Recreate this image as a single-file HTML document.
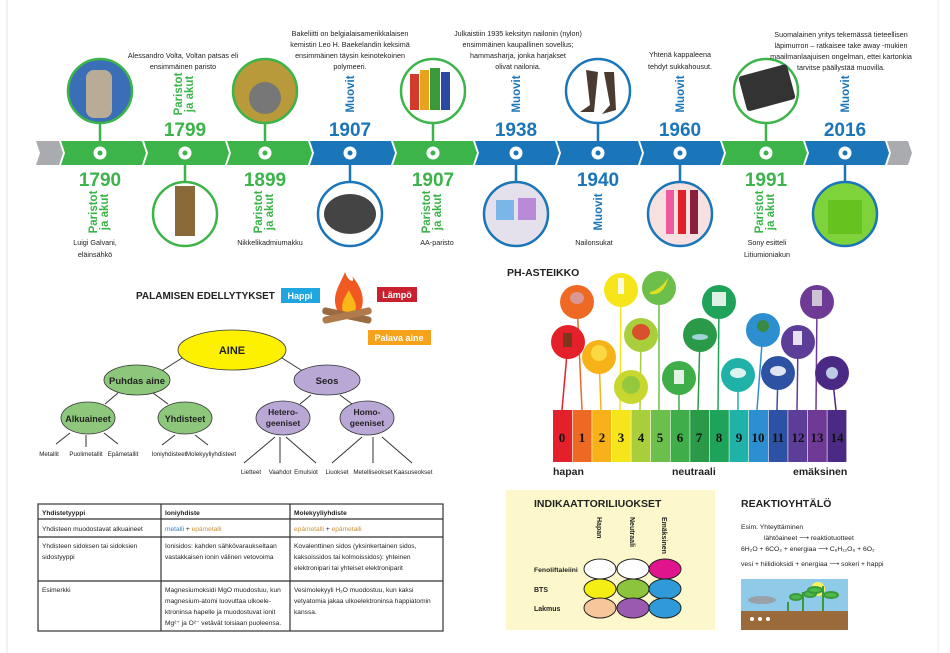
<!DOCTYPE html>
<html><head><meta charset="utf-8"><style>
html,body{margin:0;padding:0;background:#fff;}
svg{display:block;font-family:"Liberation Sans",sans-serif;}
</style></head><body>
<svg width="950" height="653" viewBox="0 0 950 653" xmlns="http://www.w3.org/2000/svg">
<rect width="950" height="653" fill="#fff"/>
<line x1="7" y1="0" x2="7" y2="653" stroke="#e4e4e4"/>
<line x1="938" y1="0" x2="938" y2="653" stroke="#eee"/>

<!-- timeline band -->
<polygon points="36,141 59,141 63,153 59,165 36,165 40,153" fill="#a9abae"/>
<g>
<polygon points="61,141 142,141 146,153 142,165 61,165 65,153" fill="#3cb44a"/>
<polygon points="144,141 225,141 229,153 225,165 144,165 148,153" fill="#3cb44a"/>
<polygon points="227,141 308,141 312,153 308,165 227,165 231,153" fill="#3cb44a"/>
<polygon points="310,141 391,141 395,153 391,165 310,165 314,153" fill="#1a75b9"/>
<polygon points="393,141 473,141 477,153 473,165 393,165 397,153" fill="#3cb44a"/>
<polygon points="475,141 555,141 559,153 555,165 475,165 479,153" fill="#1a75b9"/>
<polygon points="557,141 638,141 642,153 638,165 557,165 561,153" fill="#1a75b9"/>
<polygon points="640,141 720,141 724,153 720,165 640,165 644,153" fill="#1a75b9"/>
<polygon points="722,141 803,141 807,153 803,165 722,165 726,153" fill="#3cb44a"/>
<polygon points="805,141 885,141 889,153 885,165 805,165 809,153" fill="#1a75b9"/>
</g>
<polygon points="887,141 908,141 912,153 908,165 887,165 891,153" fill="#a9abae"/>

<!-- top circles -->
<g stroke-width="2.5">
<line x1="100" y1="122" x2="100" y2="153" stroke="#3cb44a"/>
<circle cx="100" cy="91" r="32" fill="#3a6fb8" stroke="#3cb44a"/>
<rect x="86" y="70" width="26" height="48" rx="8" fill="#b9ab95" stroke="none"/>
<line x1="265" y1="122" x2="265" y2="153" stroke="#3cb44a"/>
<circle cx="265" cy="91" r="32" fill="#b89a3a" stroke="#3cb44a"/>
<circle cx="265" cy="98" r="16" fill="#777" stroke="none"/>
<line x1="433" y1="122" x2="433" y2="153" stroke="#3cb44a"/>
<circle cx="433" cy="91" r="32" fill="#fff" stroke="#3cb44a"/>
<rect x="410" y="74" width="9" height="36" fill="#d23a2a" stroke="none"/>
<rect x="420" y="70" width="9" height="40" fill="#e8a21c" stroke="none"/>
<rect x="430" y="68" width="10" height="42" fill="#3a9a3a" stroke="none"/>
<rect x="441" y="72" width="9" height="38" fill="#2a4aa0" stroke="none"/>
<line x1="598" y1="122" x2="598" y2="153" stroke="#1a75b9"/>
<circle cx="598" cy="91" r="32" fill="#fff" stroke="#1a75b9"/>
<path d="M586 70 L590 105 L580 112 L594 112 L598 72 Z M604 72 L610 105 L602 114 L616 110 L614 72 Z" fill="#4a3a30" stroke="none"/>
<line x1="766" y1="122" x2="766" y2="153" stroke="#3cb44a"/>
<circle cx="766" cy="91" r="32" fill="#fff" stroke="#3cb44a"/>
<rect x="742" y="70" width="50" height="36" rx="3" fill="#333" stroke="none" transform="rotate(-15 766 88)"/>
</g>
<!-- bottom circles -->
<g stroke-width="2.5">
<line x1="185" y1="153" x2="185" y2="182" stroke="#3cb44a"/>
<circle cx="185" cy="214" r="32" fill="#fff" stroke="#3cb44a"/>
<rect x="175" y="186" width="20" height="50" fill="#8a6a38" stroke="none"/>
<line x1="350" y1="153" x2="350" y2="182" stroke="#1a75b9"/>
<circle cx="350" cy="214" r="32" fill="#fff" stroke="#1a75b9"/>
<ellipse cx="350" cy="214" rx="26" ry="20" fill="#444" stroke="none"/>
<line x1="516" y1="153" x2="516" y2="182" stroke="#1a75b9"/>
<circle cx="516" cy="214" r="32" fill="#e4e0ec" stroke="#1a75b9"/>
<rect x="496" y="200" width="18" height="20" fill="#7ab6e8" stroke="none"/>
<rect x="518" y="198" width="18" height="22" fill="#b88ad8" stroke="none"/>
<line x1="680" y1="153" x2="680" y2="182" stroke="#1a75b9"/>
<circle cx="680" cy="214" r="32" fill="#f6e0e0" stroke="#1a75b9"/>
<rect x="666" y="190" width="8" height="44" fill="#ee5aa0" stroke="none"/>
<rect x="678" y="190" width="8" height="44" fill="#e2202a" stroke="none"/>
<rect x="690" y="190" width="8" height="44" fill="#8a2040" stroke="none"/>
<line x1="845" y1="153" x2="845" y2="182" stroke="#1a75b9"/>
<circle cx="845" cy="214" r="32" fill="#7ed23a" stroke="#1a75b9"/>
<rect x="828" y="200" width="34" height="34" fill="#66c21e" stroke="none"/>
</g>
<!-- nodes -->
<g fill="#fff">
<circle cx="100" cy="153" r="6.5"/><circle cx="185" cy="153" r="6.5"/><circle cx="265" cy="153" r="6.5"/><circle cx="350" cy="153" r="6.5"/><circle cx="433" cy="153" r="6.5"/><circle cx="516" cy="153" r="6.5"/><circle cx="598" cy="153" r="6.5"/><circle cx="680" cy="153" r="6.5"/><circle cx="766" cy="153" r="6.5"/><circle cx="845" cy="153" r="6.5"/>
</g>
<g fill="#3cb44a"><circle cx="100" cy="153" r="2.5"/><circle cx="185" cy="153" r="2.5"/><circle cx="265" cy="153" r="2.5"/><circle cx="433" cy="153" r="2.5"/><circle cx="766" cy="153" r="2.5"/></g>
<g fill="#1a75b9"><circle cx="350" cy="153" r="2.5"/><circle cx="516" cy="153" r="2.5"/><circle cx="598" cy="153" r="2.5"/><circle cx="680" cy="153" r="2.5"/><circle cx="845" cy="153" r="2.5"/></g>

<!-- years -->
<g text-anchor="middle" font-size="19" font-weight="bold">
<text x="185" y="136" fill="#3cb44a">1799</text>
<text x="350" y="136" fill="#1a75b9">1907</text>
<text x="516" y="136" fill="#1a75b9">1938</text>
<text x="680" y="136" fill="#1a75b9">1960</text>
<text x="845" y="136" fill="#1a75b9">2016</text>
<text x="100" y="186" fill="#3cb44a">1790</text>
<text x="265" y="186" fill="#3cb44a">1899</text>
<text x="433" y="186" fill="#3cb44a">1907</text>
<text x="598" y="186" fill="#1a75b9">1940</text>
<text x="766" y="186" fill="#3cb44a">1991</text>
</g>
<!-- vertical labels -->
<g font-size="11.5" font-weight="bold" text-anchor="middle">
<text transform="translate(185,94) rotate(-90)" fill="#3cb44a"><tspan x="0" y="-3">Paristot</tspan><tspan x="0" y="8">ja akut</tspan></text>
<text transform="translate(354,94) rotate(-90)" fill="#1a75b9">Muovit</text>
<text transform="translate(520,94) rotate(-90)" fill="#1a75b9">Muovit</text>
<text transform="translate(684,94) rotate(-90)" fill="#1a75b9">Muovit</text>
<text transform="translate(849,94) rotate(-90)" fill="#1a75b9">Muovit</text>
<text transform="translate(100,212) rotate(-90)" fill="#3cb44a"><tspan x="0" y="-3">Paristot</tspan><tspan x="0" y="8">ja akut</tspan></text>
<text transform="translate(265,212) rotate(-90)" fill="#3cb44a"><tspan x="0" y="-3">Paristot</tspan><tspan x="0" y="8">ja akut</tspan></text>
<text transform="translate(433,212) rotate(-90)" fill="#3cb44a"><tspan x="0" y="-3">Paristot</tspan><tspan x="0" y="8">ja akut</tspan></text>
<text transform="translate(602,212) rotate(-90)" fill="#1a75b9">Muovit</text>
<text transform="translate(766,212) rotate(-90)" fill="#3cb44a"><tspan x="0" y="-3">Paristot</tspan><tspan x="0" y="8">ja akut</tspan></text>
</g>
<!-- descriptions -->
<g font-size="7.2" fill="#222" text-anchor="middle">
<text x="183" y="58">Alessandro Volta, Voltan patsas eli</text><text x="183" y="69">ensimmäinen paristo</text>
<text x="350" y="36">Bakeliitti on belgialaisamerikkalaisen</text><text x="350" y="47">kemistin Leo H. Baekelandin keksimä</text><text x="350" y="58">ensimmäinen täysin keinotekoinen</text><text x="350" y="69">polymeeri.</text>
<text x="518" y="36">Julkaistiin 1935 keksityn nailonin (nylon)</text><text x="518" y="47">ensimmäinen kaupallinen sovellus;</text><text x="518" y="58">hammasharja, jonka harjakset</text><text x="518" y="69">olivat nailonia.</text>
<text x="680" y="57">Yhtenä kappaleena</text><text x="680" y="69">tehdyt sukkahousut.</text>
<text x="841" y="37">Suomalainen yritys tekemässä tieteellisen</text><text x="841" y="48">läpimurron – ratkaisee take away -mukien</text><text x="841" y="59">maailmanlaajuisen ongelman, ettei kartonkia</text><text x="841" y="70">tarvitse päällystää muovilla.</text>
<text x="95" y="245">Luigi Galvani,</text><text x="95" y="257">eläinsähkö</text>
<text x="270" y="245">Nikkelikadmiumakku</text>
<text x="437" y="245">AA-paristo</text>
<text x="594" y="245">Nailonsukat</text>
<text x="767" y="245">Sony esitteli</text><text x="767" y="257">Litiumioniakun</text>
</g>

<!-- Palamisen -->
<text x="136" y="299" font-size="10" font-weight="bold" fill="#222">PALAMISEN EDELLYTYKSET</text>
<rect x="281" y="288" width="39" height="15" fill="#1fa5e0"/><text x="300" y="299" font-size="9" font-weight="bold" fill="#fff" text-anchor="middle">Happi</text>
<rect x="377" y="287" width="40" height="15" fill="#c8202e"/><text x="397" y="298" font-size="9" font-weight="bold" fill="#fff" text-anchor="middle">Lämpö</text>
<path d="M338 312 C330 296 340 285 345 272 C348 282 356 284 352 276 C362 288 366 300 360 312 Z" fill="#f05a22"/>
<path d="M343 312 C340 302 346 296 349 290 C352 298 358 302 355 312 Z" fill="#fbb617"/>
<rect x="322" y="312" width="50" height="7" rx="3" fill="#9a6a42" transform="rotate(12 347 315)"/>
<rect x="322" y="312" width="50" height="7" rx="3" fill="#b07a4c" transform="rotate(-12 347 315)"/>
<rect x="368" y="330" width="63" height="15" fill="#f7a21b"/><text x="399" y="341" font-size="9" font-weight="bold" fill="#fff" text-anchor="middle">Palava aine</text>

<!-- tree lines -->
<g stroke="#333" stroke-width="1">
<line x1="182" y1="358" x2="160" y2="372"/><line x1="282" y1="358" x2="304" y2="372"/>
<line x1="118" y1="393" x2="105" y2="404"/><line x1="153" y1="393" x2="168" y2="404"/>
<line x1="311" y1="395" x2="300" y2="404"/><line x1="340" y1="395" x2="352" y2="404"/>
<line x1="70" y1="433" x2="56" y2="444"/><line x1="86" y1="435" x2="86" y2="447"/><line x1="104" y1="433" x2="118" y2="444"/>
<line x1="175" y1="435" x2="162" y2="445"/><line x1="195" y1="435" x2="208" y2="445"/>
<line x1="275" y1="437" x2="244" y2="463"/><line x1="280" y1="437" x2="280" y2="463"/><line x1="286" y1="437" x2="316" y2="463"/>
<line x1="362" y1="437" x2="332" y2="463"/><line x1="373" y1="437" x2="373" y2="463"/><line x1="382" y1="437" x2="412" y2="463"/>
</g>
<g stroke="#333" stroke-width="0.8">
<ellipse cx="232" cy="350" rx="54" ry="20" fill="#fdf100"/>
<ellipse cx="137" cy="380" rx="33" ry="15" fill="#8dc77b"/>
<ellipse cx="327" cy="380" rx="33" ry="15" fill="#b9a7d6"/>
<ellipse cx="88" cy="418" rx="27" ry="16" fill="#8dc77b"/>
<ellipse cx="185" cy="418" rx="27" ry="16" fill="#8dc77b"/>
<ellipse cx="283" cy="418" rx="27" ry="17" fill="#b9a7d6"/>
<ellipse cx="367" cy="418" rx="27" ry="17" fill="#b9a7d6"/>
</g>
<g font-weight="bold" fill="#222" text-anchor="middle">
<text x="232" y="354" font-size="11">AINE</text>
<text x="137" y="384" font-size="9.5">Puhdas aine</text>
<text x="327" y="384" font-size="9.5">Seos</text>
<text x="88" y="422" font-size="9">Alkuaineet</text>
<text x="185" y="422" font-size="9">Yhdisteet</text>
<text x="283" y="415" font-size="8.5">Hetero-</text><text x="283" y="426" font-size="8.5">geeniset</text>
<text x="367" y="415" font-size="8.5">Homo-</text><text x="367" y="426" font-size="8.5">geeniset</text>
</g>
<g font-size="6.2" fill="#222" text-anchor="middle">
<text x="49" y="456">Metallit</text><text x="86" y="456">Puolimetallit</text><text x="123" y="456">Epämetallit</text>
<text x="169" y="456">Ioniyhdisteet</text><text x="211" y="456">Molekyyliyhdisteet</text>
<text x="251" y="474">Lietteet</text><text x="280" y="474">Vaahdot</text><text x="306" y="474">Emulsiot</text>
<text x="337" y="474">Liuokset</text><text x="373" y="474">Metelliseokset</text><text x="413" y="474">Kaasuseokset</text>
</g>

<!-- table -->
<g stroke="#333" stroke-width="1.2" fill="none">
<rect x="38" y="504" width="405" height="127"/>
<line x1="161" y1="504" x2="161" y2="631"/><line x1="290" y1="504" x2="290" y2="631"/>
<line x1="38" y1="519" x2="443" y2="519"/><line x1="38" y1="537" x2="443" y2="537"/><line x1="38" y1="581" x2="443" y2="581"/>
</g>
<g font-size="6.6" fill="#222">
<text x="42" y="515" font-weight="bold">Yhdistetyyppi</text><text x="165" y="515" font-weight="bold">Ioniyhdiste</text><text x="294" y="515" font-weight="bold">Molekyyliyhdiste</text>
<text x="42" y="531">Yhdisteen muodostavat alkuaineet</text>
<text x="165" y="531"><tspan fill="#3b7cc4">metalli</tspan> + <tspan fill="#c8943a">epämetalli</tspan></text>
<text x="294" y="531"><tspan fill="#c8943a">epämetalli</tspan> + <tspan fill="#c8943a">epämetalli</tspan></text>
<text x="42" y="548">Yhdisteen sidoksen tai sidoksien</text><text x="42" y="559">sidostyyppi</text>
<text x="165" y="548">Ionisidos: kahden sähkövaraukseltaan</text><text x="165" y="559">vastakkaisen ionin välinen vetovoima</text>
<text x="294" y="548">Kovalenttinen sidos (yksinkertainen sidos,</text><text x="294" y="559">kaksoissidos tai kolmoissidos): yhteinen</text><text x="294" y="570">elektronipari tai yhteiset elektroniparit</text>
<text x="42" y="592">Esimerkki</text>
<text x="165" y="592">Magnesiumoksidi MgO muodostuu, kun</text><text x="165" y="603">magnesium-atomi luovuttaa ulkoele-</text><text x="165" y="614">ktroninsa hapelle  ja muodostuvat ionit</text><text x="165" y="625">Mg²⁺ ja O²⁻ vetävät toisiaan puoleensa.</text>
<text x="294" y="592">Vesimolekyyli H₂O muodostuu, kun kaksi</text><text x="294" y="603">vetyatomia jakaa ulkoelektroninsa happiatomin</text><text x="294" y="614">kanssa.</text>
</g>

<!-- PH -->
<text x="507" y="276" font-size="10.5" font-weight="bold" fill="#222">PH-ASTEIKKO</text>
<g stroke-width="1.5">
<line x1="568" y1="342" x2="562" y2="410" stroke="#e4202a"/>
<line x1="577" y1="302" x2="582" y2="410" stroke="#ee6a24"/>
<line x1="599" y1="357" x2="601" y2="410" stroke="#f8b219"/>
<line x1="621" y1="290" x2="620" y2="410" stroke="#f5e51a"/>
<line x1="641" y1="335" x2="640" y2="410" stroke="#a8cf3b"/>
<line x1="659" y1="288" x2="659" y2="410" stroke="#6cbf4a"/>
<line x1="679" y1="378" x2="679" y2="410" stroke="#3fae49"/>
<line x1="700" y1="335" x2="698" y2="410" stroke="#2a9a48"/>
<line x1="719" y1="302" x2="718" y2="410" stroke="#1fa35a"/>
<line x1="738" y1="375" x2="738" y2="410" stroke="#20b2a8"/>
<line x1="763" y1="330" x2="757" y2="410" stroke="#2e8fd0"/>
<line x1="778" y1="373" x2="777" y2="410" stroke="#2e52a3"/>
<line x1="798" y1="342" x2="797" y2="410" stroke="#5c3d98"/>
<line x1="817" y1="302" x2="816" y2="410" stroke="#6f3a96"/>
<line x1="832" y1="373" x2="836" y2="410" stroke="#4b2a85"/>
</g>
<g>
<circle cx="568" cy="342" r="17" fill="#e4202a"/><circle cx="577" cy="302" r="17" fill="#ee6a24"/>
<circle cx="599" cy="357" r="17" fill="#f8b219"/><circle cx="621" cy="290" r="17" fill="#f5e51a"/>
<circle cx="631" cy="387" r="17" fill="#c8d630"/><circle cx="641" cy="335" r="17" fill="#a8cf3b"/>
<circle cx="659" cy="288" r="17" fill="#6cbf4a"/><circle cx="679" cy="378" r="17" fill="#3fae49"/>
<circle cx="700" cy="335" r="17" fill="#2a9a48"/><circle cx="719" cy="302" r="17" fill="#1fa35a"/>
<circle cx="738" cy="375" r="17" fill="#20b2a8"/><circle cx="763" cy="330" r="17" fill="#2e8fd0"/>
<circle cx="778" cy="373" r="17" fill="#2e52a3"/><circle cx="798" cy="342" r="17" fill="#5c3d98"/>
<circle cx="817" cy="302" r="17" fill="#6f3a96"/><circle cx="832" cy="373" r="17" fill="#4b2a85"/>
</g>
<g fill="#fff" opacity="0.85">
<ellipse cx="577" cy="298" rx="7" ry="6" fill="#d8a0a8"/><ellipse cx="599" cy="353" rx="8" ry="8" fill="#fbe04a"/>
<rect x="618" y="278" width="6" height="16"/><ellipse cx="631" cy="385" rx="9" ry="9" fill="#8cc63f"/>
<ellipse cx="641" cy="332" rx="9" ry="8" fill="#e23a2a"/><path d="M650 292 Q660 290 668 278 Q664 296 650 294Z" fill="#f5e51a"/>
<rect x="674" y="370" width="10" height="14"/><ellipse cx="700" cy="337" rx="8" ry="3" fill="#b8ddf2"/>
<rect x="712" y="292" width="14" height="14" fill="#fff"/><ellipse cx="738" cy="373" rx="8" ry="5"/>
<circle cx="763" cy="326" r="6" fill="#3a8a2a"/><ellipse cx="778" cy="371" rx="8" ry="5"/>
<rect x="793" y="331" width="9" height="14"/><rect x="812" y="290" width="10" height="16" fill="#ddd"/>
<circle cx="832" cy="373" r="6" fill="#cfe8f6"/><rect x="563" y="333" width="9" height="14" fill="#6a3a1a"/>
</g>
<g>
<rect x="553" y="410" width="19" height="52" fill="#e4202a"/><rect x="572.6" y="410" width="19" height="52" fill="#ee6a24"/>
<rect x="592.2" y="410" width="19" height="52" fill="#f8b219"/><rect x="611.8" y="410" width="19" height="52" fill="#f5e51a"/>
<rect x="631.4" y="410" width="19" height="52" fill="#a8cf3b"/><rect x="651" y="410" width="19" height="52" fill="#6cbf4a"/>
<rect x="670.6" y="410" width="19" height="52" fill="#3fae49"/><rect x="690.2" y="410" width="19" height="52" fill="#2a9a48"/>
<rect x="709.8" y="410" width="19" height="52" fill="#1fa35a"/><rect x="729.4" y="410" width="19" height="52" fill="#20b2a8"/>
<rect x="749" y="410" width="19" height="52" fill="#2e8fd0"/><rect x="768.6" y="410" width="19" height="52" fill="#2e52a3"/>
<rect x="788.2" y="410" width="19" height="52" fill="#5c3d98"/><rect x="807.8" y="410" width="19" height="52" fill="#6f3a96"/>
<rect x="827.4" y="410" width="19" height="52" fill="#4b2a85"/>
</g>
<g font-family="Liberation Serif,serif" font-size="13" font-weight="bold" fill="#111" text-anchor="middle">
<text x="562" y="442">0</text><text x="582" y="442">1</text><text x="602" y="442">2</text><text x="621" y="442">3</text><text x="641" y="442">4</text><text x="660" y="442">5</text><text x="680" y="442">6</text><text x="699" y="442">7</text><text x="719" y="442">8</text><text x="739" y="442">9</text><text x="758" y="442">10</text><text x="778" y="442">11</text><text x="798" y="442">12</text><text x="817" y="442">13</text><text x="837" y="442">14</text>
</g>
<g font-size="10.5" font-weight="bold" fill="#222">
<text x="553" y="475">hapan</text><text x="672" y="475">neutraali</text><text x="793" y="475">emäksinen</text>
</g>

<!-- Indikaattori -->
<rect x="506" y="490" width="209" height="140" fill="#fdf8cc"/>
<text x="534" y="507" font-size="10.5" font-weight="bold" fill="#222">INDIKAATTORILIUOKSET</text>
<g font-size="7" font-weight="bold" fill="#222">
<text transform="translate(597,517) rotate(90)">Hapan</text>
<text transform="translate(630,517) rotate(90)">Neutraali</text>
<text transform="translate(662,517) rotate(90)">Emäksinen</text>
<text x="534" y="572" font-size="6.8">Fenoliftaleiini</text><text x="534" y="592">BTS</text><text x="534" y="611">Lakmus</text>
</g>
<g stroke="#222" stroke-width="1">
<ellipse cx="600" cy="569" rx="16" ry="10" fill="#fff"/><ellipse cx="633" cy="569" rx="16" ry="10" fill="#fff"/><ellipse cx="665" cy="569" rx="16" ry="10" fill="#e0148c"/>
<ellipse cx="600" cy="589" rx="16" ry="10" fill="#f5ee14"/><ellipse cx="633" cy="589" rx="16" ry="10" fill="#8cc43c"/><ellipse cx="665" cy="589" rx="16" ry="10" fill="#2e9ad8"/>
<ellipse cx="600" cy="608" rx="16" ry="10" fill="#f7c69a"/><ellipse cx="633" cy="608" rx="16" ry="10" fill="#9a5ab0"/><ellipse cx="665" cy="608" rx="16" ry="10" fill="#2e9ad8"/>
</g>

<!-- Reaktio -->
<text x="741" y="507" font-size="10.5" font-weight="bold" fill="#222">REAKTIOYHTÄLÖ</text>
<g font-size="6.8" fill="#222">
<text x="741" y="529">Esim. Yhteyttäminen</text>
<text x="764" y="540">lähtöaineet ⟶ reaktiotuotteet</text>
<text x="741" y="551">6H₂O + 6CO₂ + energiaa ⟶ C₆H₁₂O₆ + 6O₂</text>
<text x="741" y="566">vesi + hiilidioksidi + energiaa ⟶ sokeri + happi</text>
</g>
<rect x="741" y="579" width="107" height="51" fill="#8fcbe8"/>
<rect x="741" y="611" width="107" height="19" fill="#9a6a3a"/>
<circle cx="818" cy="589" r="7" fill="#fff25a"/>
<ellipse cx="762" cy="600" rx="14" ry="4" fill="#9aa0a8"/>
<g stroke="#3a9a3a" stroke-width="2" fill="#4cb84a">
<line x1="803" y1="611" x2="803" y2="592"/><ellipse cx="796" cy="597" rx="6" ry="3"/><ellipse cx="810" cy="594" rx="6" ry="3"/>
<line x1="823" y1="611" x2="823" y2="586"/><ellipse cx="815" cy="590" rx="7" ry="3"/><ellipse cx="831" cy="595" rx="7" ry="3"/>
<line x1="788" y1="611" x2="788" y2="602"/>
</g>
<g fill="#fff"><circle cx="752" cy="619" r="2"/><circle cx="760" cy="619" r="2"/><circle cx="768" cy="619" r="2"/></g>
</svg>
</body></html>
